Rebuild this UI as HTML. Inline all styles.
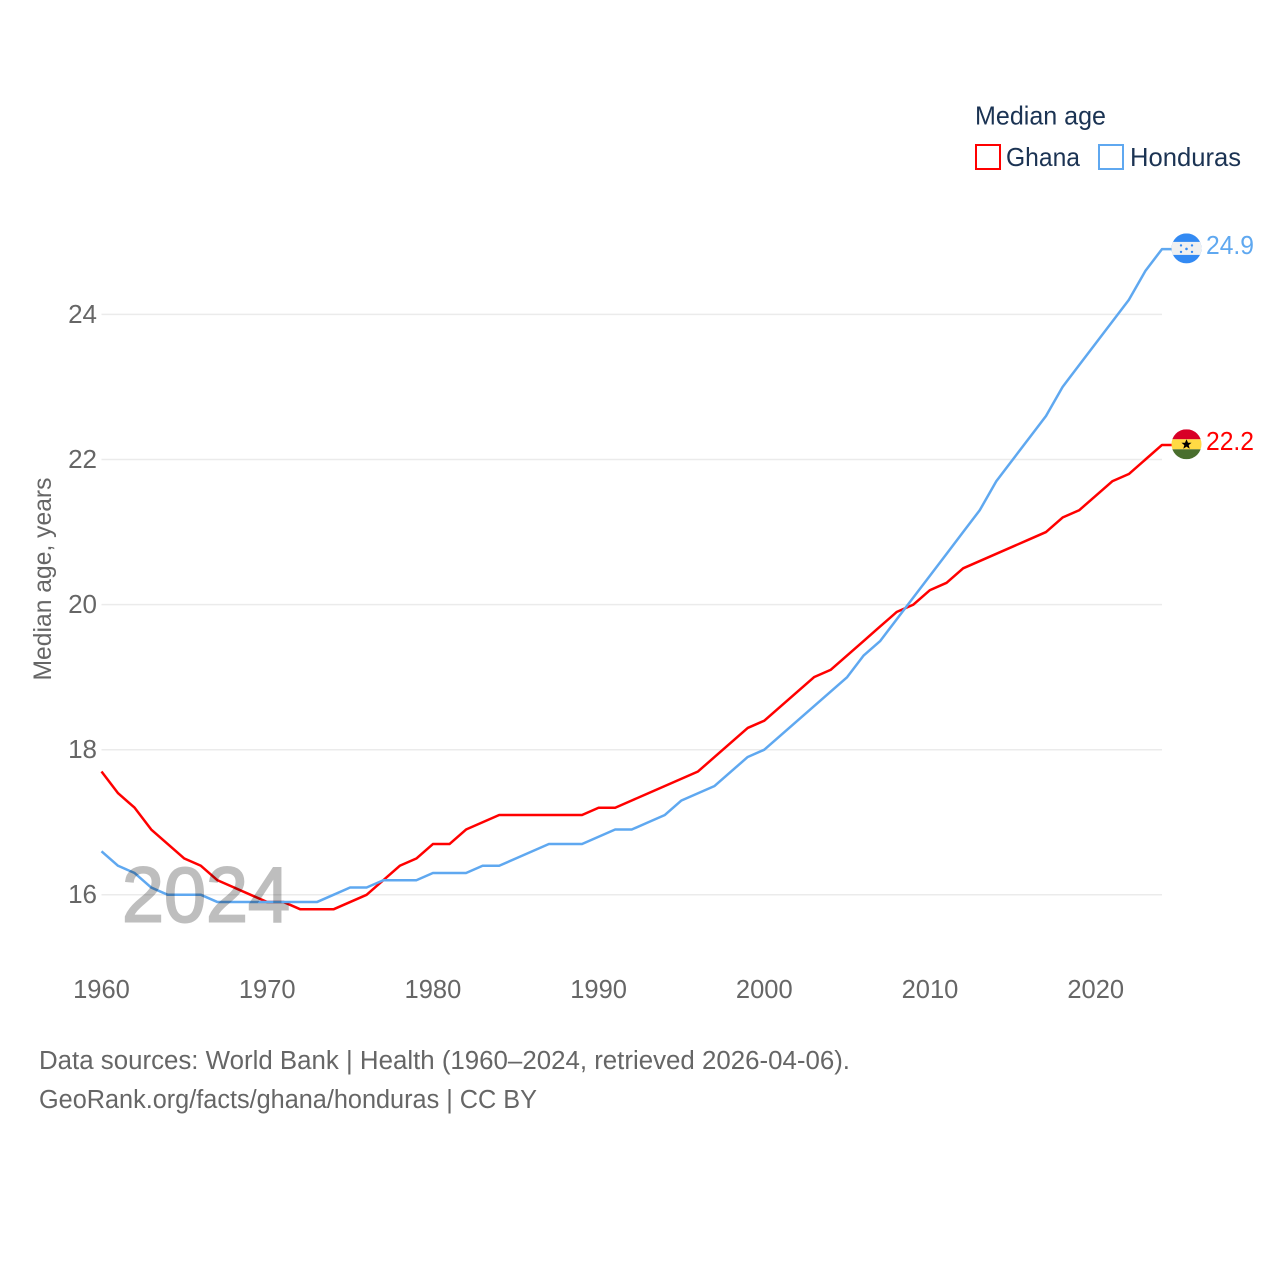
<!DOCTYPE html>
<html lang="en">
<head>
<meta charset="utf-8">
<title>Median age: Ghana and Honduras</title>
<style>
html,body{margin:0;padding:0;background:#fff;}
svg{display:block;}
text{font-family:"Liberation Sans",sans-serif;}
</style>
</head>
<body>
<svg id="chart" xmlns="http://www.w3.org/2000/svg" width="1280" height="1280" viewBox="0 0 1280 1280">
  <defs>
    <clipPath id="flag-clip"><circle cx="0" cy="0" r="15"/></clipPath>
  </defs>
  <g id="grid"></g>
  <g id="y-ticks"></g>
  <g id="x-ticks"></g>
  <text transform="translate(51,579) rotate(-90)" text-anchor="middle" font-size="25" fill="#666" textLength="203" lengthAdjust="spacingAndGlyphs">Median age, years</text>
  <g id="series"></g>
  <text x="122" y="921.5" font-size="78" font-weight="400" fill="#000" stroke="#000" stroke-width="2" opacity="0.25" textLength="168" lengthAdjust="spacingAndGlyphs">2024</text>

  <g id="flag-honduras">
    <g clip-path="url(#flag-clip)">
      <rect x="-15" y="-15" width="30" height="30" fill="#338af3"/>
      <rect x="-15" y="-6.5" width="30" height="13" fill="#f0f0f0"/>
      <g fill="#338af3">
        <circle cx="0" cy="0.5" r="1.3"/>
        <circle cx="-5.5" cy="-3" r="1.2"/>
        <circle cx="5.5" cy="-3" r="1.2"/>
        <circle cx="-5.5" cy="3.5" r="1.2"/>
        <circle cx="5.5" cy="3.5" r="1.2"/>
      </g>
    </g>
  </g>
  <g id="flag-ghana">
    <g clip-path="url(#flag-clip)">
      <rect x="-15" y="-15" width="30" height="10" fill="#d80027"/>
      <rect x="-15" y="-5" width="30" height="10" fill="#ffda44"/>
      <rect x="-15" y="5" width="30" height="10" fill="#496e2d"/>
      <polygon points="0,-5 1.5,-1.5 5,-1.5 2.2,0.8 3.2,4.4 0,2.3 -3.2,4.4 -2.2,0.8 -5,-1.5 -1.5,-1.5" fill="#000"/>
    </g>
  </g>
  <g id="end-labels"></g>

  <g>
    <text x="975" y="124.5" font-size="26" fill="#1b3353" textLength="131" lengthAdjust="spacingAndGlyphs">Median age</text>
    <g>
      <rect x="976" y="145" width="24" height="24" fill="none" stroke="#ff0000" stroke-width="2"/>
      <text x="1006" y="166" font-size="26" fill="#1b3353" textLength="74" lengthAdjust="spacingAndGlyphs">Ghana</text>
    </g>
    <g>
      <rect x="1099" y="145" width="24" height="24" fill="none" stroke="#5fa8f0" stroke-width="2"/>
      <text x="1130" y="166" font-size="26" fill="#1b3353" textLength="111" lengthAdjust="spacingAndGlyphs">Honduras</text>
    </g>
  </g>

  <g>
    <text x="39" y="1069" font-size="25.5" fill="#666" textLength="811" lengthAdjust="spacingAndGlyphs">Data sources: World Bank | Health (1960–2024, retrieved 2026-04-06).</text>
    <text x="39" y="1108" font-size="25.5" fill="#666" textLength="498" lengthAdjust="spacingAndGlyphs">GeoRank.org/facts/ghana/honduras | CC BY</text>
  </g>
</svg>
<script>
const firstYear = 1960;
const ghanaValues = [17.7,17.4,17.2,16.9,16.7,16.5,16.4,16.2,16.1,16.0,15.9,15.9,15.8,15.8,15.8,15.9,16.0,16.2,16.4,16.5,16.7,16.7,16.9,17.0,17.1,17.1,17.1,17.1,17.1,17.1,17.2,17.2,17.3,17.4,17.5,17.6,17.7,17.9,18.1,18.3,18.4,18.6,18.8,19.0,19.1,19.3,19.5,19.7,19.9,20.0,20.2,20.3,20.5,20.6,20.7,20.8,20.9,21.0,21.2,21.3,21.5,21.7,21.8,22.0,22.2];
const hondurasValues = [16.6,16.4,16.3,16.1,16.0,16.0,16.0,15.9,15.9,15.9,15.9,15.9,15.9,15.9,16.0,16.1,16.1,16.2,16.2,16.2,16.3,16.3,16.3,16.4,16.4,16.5,16.6,16.7,16.7,16.7,16.8,16.9,16.9,17.0,17.1,17.3,17.4,17.5,17.7,17.9,18.0,18.2,18.4,18.6,18.8,19.0,19.3,19.5,19.8,20.1,20.4,20.7,21.0,21.3,21.7,22.0,22.3,22.6,23.0,23.3,23.6,23.9,24.2,24.6,24.9];
const yTickValues = [16,18,20,22,24];
const xTickValues = [1960,1970,1980,1990,2000,2010,2020];

const NS = 'http://www.w3.org/2000/svg';
function xScale(year){ return 101.5 + (year - 1960) * 16.57; }
function yScale(value){ return 894.8 - (value - 16) * 72.55; }
function make(tag, parent){
  const el = document.createElementNS(NS, tag);
  parent.appendChild(el);
  return el;
}

const gridGroup = document.getElementById('grid');
const yTickGroup = document.getElementById('y-ticks');
yTickValues.forEach(function(v){
  const line = make('line', gridGroup);
  
  
  line.setAttribute('x1', xScale(1960));
  line.setAttribute('x2', xScale(2024));
  line.setAttribute('y1', yScale(v));
  line.setAttribute('y2', yScale(v));
  line.setAttribute('stroke', '#ebebeb');
  line.setAttribute('stroke-width', '1.5');
  const label = make('text', yTickGroup);
  
  
  label.setAttribute('x', 97);
  label.setAttribute('y', yScale(v) + 8.4);
  label.setAttribute('text-anchor', 'end');
  label.setAttribute('font-size', '26');
  label.setAttribute('fill', '#666');
  label.textContent = String(v);
});

const xTickGroup = document.getElementById('x-ticks');
xTickValues.forEach(function(y){
  const label = make('text', xTickGroup);
  
  
  label.setAttribute('x', xScale(y));
  label.setAttribute('y', 998);
  label.setAttribute('text-anchor', 'middle');
  label.setAttribute('font-size', '25.5');
  label.setAttribute('fill', '#666');
  label.textContent = String(y);
});

function drawSeries(values, color, name){
  const group = document.getElementById('series');
  const pts = values.map(function(v, i){
    return xScale(firstYear + i).toFixed(2) + ',' + yScale(v).toFixed(2);
  });
  const last = values[values.length - 1];
  pts.push('1172,' + yScale(last).toFixed(2));
  const line = make('polyline', group);
  
  
  line.setAttribute('points', pts.join(' '));
  line.setAttribute('fill', 'none');
  line.setAttribute('stroke', color);
  line.setAttribute('stroke-width', '2.5');
  line.setAttribute('stroke-linejoin', 'round');
}
drawSeries(ghanaValues, '#ff0000', 'ghana');
drawSeries(hondurasValues, '#5fa8f0', 'honduras');

function drawEnd(values, color, flagId, name){
  const last = values[values.length - 1];
  const y = yScale(last);
  document.getElementById(flagId).setAttribute('transform', 'translate(1186.5,' + (y - 0.7) + ')');
  const label = make('text', document.getElementById('end-labels'));
  
  
  label.setAttribute('x', 1206);
  label.setAttribute('y', y + 5);
  label.setAttribute('font-size', '26');
  label.setAttribute('fill', color);
  label.setAttribute('textLength', '48');
  label.setAttribute('lengthAdjust', 'spacingAndGlyphs');
  label.textContent = last.toFixed(1);
}
drawEnd(ghanaValues, '#ff0000', 'flag-ghana', 'ghana');
drawEnd(hondurasValues, '#5fa8f0', 'flag-honduras', 'honduras');
</script>
</body>
</html>
